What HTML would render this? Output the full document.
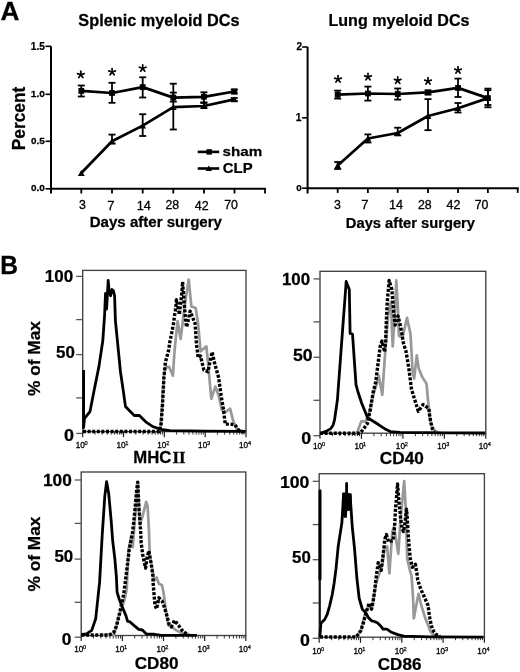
<!DOCTYPE html>
<html><head><meta charset="utf-8"><style>
html,body{margin:0;padding:0;background:#fff;}
body{width:520px;height:672px;overflow:hidden;}
svg{display:block;filter:grayscale(1);}
text{font-family:"Liberation Sans",sans-serif;}
</style></head><body>
<svg width="520" height="672" viewBox="0 0 520 672">
<rect width="520" height="672" fill="#fff"/>
<line x1="51" y1="46.3" x2="51" y2="193.5" stroke="#000" stroke-width="2" />
<line x1="45.5" y1="46.3" x2="51" y2="46.3" stroke="#000" stroke-width="1.6" />
<line x1="45.5" y1="94.3" x2="51" y2="94.3" stroke="#000" stroke-width="1.6" />
<line x1="45.5" y1="141.3" x2="51" y2="141.3" stroke="#000" stroke-width="1.6" />
<line x1="45.5" y1="188.8" x2="51" y2="188.8" stroke="#000" stroke-width="1.6" />
<line x1="50" y1="188.8" x2="266.0" y2="188.8" stroke="#000" stroke-width="2" />
<line x1="81.3" y1="188.8" x2="81.3" y2="193.5" stroke="#000" stroke-width="1.8" />
<line x1="112.0" y1="188.8" x2="112.0" y2="193.5" stroke="#000" stroke-width="1.8" />
<line x1="142.7" y1="188.8" x2="142.7" y2="193.5" stroke="#000" stroke-width="1.8" />
<line x1="173.3" y1="188.8" x2="173.3" y2="193.5" stroke="#000" stroke-width="1.8" />
<line x1="204.0" y1="188.8" x2="204.0" y2="193.5" stroke="#000" stroke-width="1.8" />
<line x1="234.5" y1="188.8" x2="234.5" y2="193.5" stroke="#000" stroke-width="1.8" />
<line x1="265.0" y1="188.8" x2="265.0" y2="193.5" stroke="#000" stroke-width="1.8" />
<polyline points="81.3,90.9 112.0,93.0 142.7,87.1 173.3,97.6 203.9,96.8 234.3,91.5" fill="none" stroke="#000" stroke-width="2.7" stroke-linejoin="round" />
<polyline points="81.3,173.0 112.0,141.3 142.7,125.6 173.3,107.1 203.9,106.0 234.3,99.4" fill="none" stroke="#000" stroke-width="2.7" stroke-linejoin="round" />
<line x1="81.3" y1="85.5" x2="81.3" y2="96.5" stroke="#000" stroke-width="1.8" />
<line x1="77.8" y1="85.5" x2="84.8" y2="85.5" stroke="#000" stroke-width="1.8" />
<line x1="77.8" y1="96.5" x2="84.8" y2="96.5" stroke="#000" stroke-width="1.8" />
<rect x="78.40" y="88.00" width="5.8" height="5.8" fill="#000"/>
<line x1="112.0" y1="82.8" x2="112.0" y2="102.8" stroke="#000" stroke-width="1.8" />
<line x1="108.5" y1="82.8" x2="115.5" y2="82.8" stroke="#000" stroke-width="1.8" />
<line x1="108.5" y1="102.8" x2="115.5" y2="102.8" stroke="#000" stroke-width="1.8" />
<rect x="109.10" y="90.10" width="5.8" height="5.8" fill="#000"/>
<line x1="142.7" y1="77.3" x2="142.7" y2="97.5" stroke="#000" stroke-width="1.8" />
<line x1="139.2" y1="77.3" x2="146.2" y2="77.3" stroke="#000" stroke-width="1.8" />
<line x1="139.2" y1="97.5" x2="146.2" y2="97.5" stroke="#000" stroke-width="1.8" />
<rect x="139.80" y="84.20" width="5.8" height="5.8" fill="#000"/>
<line x1="173.3" y1="92.6" x2="173.3" y2="101.6" stroke="#000" stroke-width="1.8" />
<line x1="169.8" y1="92.6" x2="176.8" y2="92.6" stroke="#000" stroke-width="1.8" />
<line x1="169.8" y1="101.6" x2="176.8" y2="101.6" stroke="#000" stroke-width="1.8" />
<rect x="170.40" y="94.70" width="5.8" height="5.8" fill="#000"/>
<line x1="203.9" y1="92.3" x2="203.9" y2="102.3" stroke="#000" stroke-width="1.8" />
<line x1="200.4" y1="92.3" x2="207.4" y2="92.3" stroke="#000" stroke-width="1.8" />
<line x1="200.4" y1="102.3" x2="207.4" y2="102.3" stroke="#000" stroke-width="1.8" />
<rect x="201.00" y="93.90" width="5.8" height="5.8" fill="#000"/>
<line x1="234.3" y1="89.5" x2="234.3" y2="93.5" stroke="#000" stroke-width="1.8" />
<line x1="230.8" y1="89.5" x2="237.8" y2="89.5" stroke="#000" stroke-width="1.8" />
<line x1="230.8" y1="93.5" x2="237.8" y2="93.5" stroke="#000" stroke-width="1.8" />
<rect x="231.40" y="88.60" width="5.8" height="5.8" fill="#000"/>
<polygon points="77.90,175.89 84.70,175.89 81.30,170.11" fill="#000"/>
<line x1="112.0" y1="134.6" x2="112.0" y2="143.5" stroke="#000" stroke-width="1.8" />
<line x1="108.5" y1="134.6" x2="115.5" y2="134.6" stroke="#000" stroke-width="1.8" />
<line x1="108.5" y1="143.5" x2="115.5" y2="143.5" stroke="#000" stroke-width="1.8" />
<polygon points="108.60,144.19 115.40,144.19 112.00,138.41" fill="#000"/>
<line x1="142.7" y1="114.2" x2="142.7" y2="136.0" stroke="#000" stroke-width="1.8" />
<line x1="139.2" y1="114.2" x2="146.2" y2="114.2" stroke="#000" stroke-width="1.8" />
<line x1="139.2" y1="136.0" x2="146.2" y2="136.0" stroke="#000" stroke-width="1.8" />
<polygon points="139.30,128.49 146.10,128.49 142.70,122.71" fill="#000"/>
<line x1="173.3" y1="83.7" x2="173.3" y2="129.5" stroke="#000" stroke-width="1.8" />
<line x1="169.8" y1="83.7" x2="176.8" y2="83.7" stroke="#000" stroke-width="1.8" />
<line x1="169.8" y1="129.5" x2="176.8" y2="129.5" stroke="#000" stroke-width="1.8" />
<polygon points="169.90,109.99 176.70,109.99 173.30,104.21" fill="#000"/>
<line x1="203.9" y1="103.0" x2="203.9" y2="108.0" stroke="#000" stroke-width="1.8" />
<line x1="200.4" y1="103.0" x2="207.4" y2="103.0" stroke="#000" stroke-width="1.8" />
<line x1="200.4" y1="108.0" x2="207.4" y2="108.0" stroke="#000" stroke-width="1.8" />
<polygon points="200.50,108.89 207.30,108.89 203.90,103.11" fill="#000"/>
<line x1="234.3" y1="98.0" x2="234.3" y2="101.0" stroke="#000" stroke-width="1.8" />
<line x1="230.8" y1="98.0" x2="237.8" y2="98.0" stroke="#000" stroke-width="1.8" />
<line x1="230.8" y1="101.0" x2="237.8" y2="101.0" stroke="#000" stroke-width="1.8" />
<polygon points="230.90,102.29 237.70,102.29 234.30,96.51" fill="#000"/>
<line x1="80.80" y1="74.70" x2="80.80" y2="71.20" stroke="#000" stroke-width="1.7" stroke-linecap="round"/>
<line x1="80.80" y1="74.70" x2="84.13" y2="73.62" stroke="#000" stroke-width="1.7" stroke-linecap="round"/>
<line x1="80.80" y1="74.70" x2="82.86" y2="77.53" stroke="#000" stroke-width="1.7" stroke-linecap="round"/>
<line x1="80.80" y1="74.70" x2="78.74" y2="77.53" stroke="#000" stroke-width="1.7" stroke-linecap="round"/>
<line x1="80.80" y1="74.70" x2="77.47" y2="73.62" stroke="#000" stroke-width="1.7" stroke-linecap="round"/>
<line x1="112.10" y1="72.00" x2="112.10" y2="68.50" stroke="#000" stroke-width="1.7" stroke-linecap="round"/>
<line x1="112.10" y1="72.00" x2="115.43" y2="70.92" stroke="#000" stroke-width="1.7" stroke-linecap="round"/>
<line x1="112.10" y1="72.00" x2="114.16" y2="74.83" stroke="#000" stroke-width="1.7" stroke-linecap="round"/>
<line x1="112.10" y1="72.00" x2="110.04" y2="74.83" stroke="#000" stroke-width="1.7" stroke-linecap="round"/>
<line x1="112.10" y1="72.00" x2="108.77" y2="70.92" stroke="#000" stroke-width="1.7" stroke-linecap="round"/>
<line x1="142.70" y1="68.30" x2="142.70" y2="64.80" stroke="#000" stroke-width="1.7" stroke-linecap="round"/>
<line x1="142.70" y1="68.30" x2="146.03" y2="67.22" stroke="#000" stroke-width="1.7" stroke-linecap="round"/>
<line x1="142.70" y1="68.30" x2="144.76" y2="71.13" stroke="#000" stroke-width="1.7" stroke-linecap="round"/>
<line x1="142.70" y1="68.30" x2="140.64" y2="71.13" stroke="#000" stroke-width="1.7" stroke-linecap="round"/>
<line x1="142.70" y1="68.30" x2="139.37" y2="67.22" stroke="#000" stroke-width="1.7" stroke-linecap="round"/>
<line x1="307.6" y1="47.0" x2="307.6" y2="193.5" stroke="#000" stroke-width="2" />
<line x1="302.1" y1="47.0" x2="307.6" y2="47.0" stroke="#000" stroke-width="1.6" />
<line x1="302.1" y1="117.8" x2="307.6" y2="117.8" stroke="#000" stroke-width="1.6" />
<line x1="302.1" y1="188.2" x2="307.6" y2="188.2" stroke="#000" stroke-width="1.6" />
<line x1="306.6" y1="188.2" x2="518.7" y2="188.2" stroke="#000" stroke-width="2" />
<line x1="337.7" y1="188.2" x2="337.7" y2="192.89999999999998" stroke="#000" stroke-width="1.8" />
<line x1="367.9" y1="188.2" x2="367.9" y2="192.89999999999998" stroke="#000" stroke-width="1.8" />
<line x1="397.7" y1="188.2" x2="397.7" y2="192.89999999999998" stroke="#000" stroke-width="1.8" />
<line x1="428.0" y1="188.2" x2="428.0" y2="192.89999999999998" stroke="#000" stroke-width="1.8" />
<line x1="458.0" y1="188.2" x2="458.0" y2="192.89999999999998" stroke="#000" stroke-width="1.8" />
<line x1="487.9" y1="188.2" x2="487.9" y2="192.89999999999998" stroke="#000" stroke-width="1.8" />
<line x1="517.7" y1="188.2" x2="517.7" y2="192.89999999999998" stroke="#000" stroke-width="1.8" />
<polyline points="337.7,94.7 367.9,93.5 397.7,94.0 428.0,92.4 458.0,87.9 487.9,98.1" fill="none" stroke="#000" stroke-width="2.7" stroke-linejoin="round" />
<polyline points="337.7,165.5 367.9,138.5 397.7,133.0 428.0,116.0 458.0,108.2 487.9,98.1" fill="none" stroke="#000" stroke-width="2.7" stroke-linejoin="round" />
<line x1="337.7" y1="90.6" x2="337.7" y2="98.6" stroke="#000" stroke-width="1.8" />
<line x1="334.2" y1="90.6" x2="341.2" y2="90.6" stroke="#000" stroke-width="1.8" />
<line x1="334.2" y1="98.6" x2="341.2" y2="98.6" stroke="#000" stroke-width="1.8" />
<rect x="334.80" y="91.80" width="5.8" height="5.8" fill="#000"/>
<line x1="367.9" y1="86.6" x2="367.9" y2="100.6" stroke="#000" stroke-width="1.8" />
<line x1="364.4" y1="86.6" x2="371.4" y2="86.6" stroke="#000" stroke-width="1.8" />
<line x1="364.4" y1="100.6" x2="371.4" y2="100.6" stroke="#000" stroke-width="1.8" />
<rect x="365.00" y="90.60" width="5.8" height="5.8" fill="#000"/>
<line x1="397.7" y1="88.5" x2="397.7" y2="99.6" stroke="#000" stroke-width="1.8" />
<line x1="394.2" y1="88.5" x2="401.2" y2="88.5" stroke="#000" stroke-width="1.8" />
<line x1="394.2" y1="99.6" x2="401.2" y2="99.6" stroke="#000" stroke-width="1.8" />
<rect x="394.80" y="91.10" width="5.8" height="5.8" fill="#000"/>
<line x1="428.0" y1="90.5" x2="428.0" y2="94.5" stroke="#000" stroke-width="1.8" />
<line x1="424.5" y1="90.5" x2="431.5" y2="90.5" stroke="#000" stroke-width="1.8" />
<line x1="424.5" y1="94.5" x2="431.5" y2="94.5" stroke="#000" stroke-width="1.8" />
<rect x="425.10" y="89.50" width="5.8" height="5.8" fill="#000"/>
<line x1="458.0" y1="78.6" x2="458.0" y2="97.0" stroke="#000" stroke-width="1.8" />
<line x1="454.5" y1="78.6" x2="461.5" y2="78.6" stroke="#000" stroke-width="1.8" />
<line x1="454.5" y1="97.0" x2="461.5" y2="97.0" stroke="#000" stroke-width="1.8" />
<rect x="455.10" y="85.00" width="5.8" height="5.8" fill="#000"/>
<line x1="487.9" y1="88.6" x2="487.9" y2="107.3" stroke="#000" stroke-width="1.8" />
<line x1="484.4" y1="88.6" x2="491.4" y2="88.6" stroke="#000" stroke-width="1.8" />
<line x1="484.4" y1="107.3" x2="491.4" y2="107.3" stroke="#000" stroke-width="1.8" />
<rect x="485.00" y="95.20" width="5.8" height="5.8" fill="#000"/>
<line x1="337.7" y1="162.0" x2="337.7" y2="169.0" stroke="#000" stroke-width="1.8" />
<line x1="334.2" y1="162.0" x2="341.2" y2="162.0" stroke="#000" stroke-width="1.8" />
<line x1="334.2" y1="169.0" x2="341.2" y2="169.0" stroke="#000" stroke-width="1.8" />
<polygon points="334.30,168.39 341.10,168.39 337.70,162.61" fill="#000"/>
<line x1="367.9" y1="134.4" x2="367.9" y2="142.5" stroke="#000" stroke-width="1.8" />
<line x1="364.4" y1="134.4" x2="371.4" y2="134.4" stroke="#000" stroke-width="1.8" />
<line x1="364.4" y1="142.5" x2="371.4" y2="142.5" stroke="#000" stroke-width="1.8" />
<polygon points="364.50,141.39 371.30,141.39 367.90,135.61" fill="#000"/>
<line x1="397.7" y1="127.7" x2="397.7" y2="135.4" stroke="#000" stroke-width="1.8" />
<line x1="394.2" y1="127.7" x2="401.2" y2="127.7" stroke="#000" stroke-width="1.8" />
<line x1="394.2" y1="135.4" x2="401.2" y2="135.4" stroke="#000" stroke-width="1.8" />
<polygon points="394.30,135.89 401.10,135.89 397.70,130.11" fill="#000"/>
<line x1="428.0" y1="99.1" x2="428.0" y2="130.2" stroke="#000" stroke-width="1.8" />
<line x1="424.5" y1="99.1" x2="431.5" y2="99.1" stroke="#000" stroke-width="1.8" />
<line x1="424.5" y1="130.2" x2="431.5" y2="130.2" stroke="#000" stroke-width="1.8" />
<polygon points="424.60,118.89 431.40,118.89 428.00,113.11" fill="#000"/>
<line x1="458.0" y1="103.0" x2="458.0" y2="112.5" stroke="#000" stroke-width="1.8" />
<line x1="454.5" y1="103.0" x2="461.5" y2="103.0" stroke="#000" stroke-width="1.8" />
<line x1="454.5" y1="112.5" x2="461.5" y2="112.5" stroke="#000" stroke-width="1.8" />
<polygon points="454.60,111.09 461.40,111.09 458.00,105.31" fill="#000"/>
<line x1="487.9" y1="90.2" x2="487.9" y2="105.0" stroke="#000" stroke-width="1.8" />
<line x1="484.4" y1="90.2" x2="491.4" y2="90.2" stroke="#000" stroke-width="1.8" />
<line x1="484.4" y1="105.0" x2="491.4" y2="105.0" stroke="#000" stroke-width="1.8" />
<polygon points="484.50,100.99 491.30,100.99 487.90,95.21" fill="#000"/>
<line x1="338.00" y1="79.20" x2="338.00" y2="75.70" stroke="#000" stroke-width="1.7" stroke-linecap="round"/>
<line x1="338.00" y1="79.20" x2="341.33" y2="78.12" stroke="#000" stroke-width="1.7" stroke-linecap="round"/>
<line x1="338.00" y1="79.20" x2="340.06" y2="82.03" stroke="#000" stroke-width="1.7" stroke-linecap="round"/>
<line x1="338.00" y1="79.20" x2="335.94" y2="82.03" stroke="#000" stroke-width="1.7" stroke-linecap="round"/>
<line x1="338.00" y1="79.20" x2="334.67" y2="78.12" stroke="#000" stroke-width="1.7" stroke-linecap="round"/>
<line x1="368.00" y1="76.90" x2="368.00" y2="73.40" stroke="#000" stroke-width="1.7" stroke-linecap="round"/>
<line x1="368.00" y1="76.90" x2="371.33" y2="75.82" stroke="#000" stroke-width="1.7" stroke-linecap="round"/>
<line x1="368.00" y1="76.90" x2="370.06" y2="79.73" stroke="#000" stroke-width="1.7" stroke-linecap="round"/>
<line x1="368.00" y1="76.90" x2="365.94" y2="79.73" stroke="#000" stroke-width="1.7" stroke-linecap="round"/>
<line x1="368.00" y1="76.90" x2="364.67" y2="75.82" stroke="#000" stroke-width="1.7" stroke-linecap="round"/>
<line x1="397.70" y1="80.40" x2="397.70" y2="76.90" stroke="#000" stroke-width="1.7" stroke-linecap="round"/>
<line x1="397.70" y1="80.40" x2="401.03" y2="79.32" stroke="#000" stroke-width="1.7" stroke-linecap="round"/>
<line x1="397.70" y1="80.40" x2="399.76" y2="83.23" stroke="#000" stroke-width="1.7" stroke-linecap="round"/>
<line x1="397.70" y1="80.40" x2="395.64" y2="83.23" stroke="#000" stroke-width="1.7" stroke-linecap="round"/>
<line x1="397.70" y1="80.40" x2="394.37" y2="79.32" stroke="#000" stroke-width="1.7" stroke-linecap="round"/>
<line x1="428.00" y1="81.20" x2="428.00" y2="77.70" stroke="#000" stroke-width="1.7" stroke-linecap="round"/>
<line x1="428.00" y1="81.20" x2="431.33" y2="80.12" stroke="#000" stroke-width="1.7" stroke-linecap="round"/>
<line x1="428.00" y1="81.20" x2="430.06" y2="84.03" stroke="#000" stroke-width="1.7" stroke-linecap="round"/>
<line x1="428.00" y1="81.20" x2="425.94" y2="84.03" stroke="#000" stroke-width="1.7" stroke-linecap="round"/>
<line x1="428.00" y1="81.20" x2="424.67" y2="80.12" stroke="#000" stroke-width="1.7" stroke-linecap="round"/>
<line x1="458.00" y1="70.20" x2="458.00" y2="66.70" stroke="#000" stroke-width="1.7" stroke-linecap="round"/>
<line x1="458.00" y1="70.20" x2="461.33" y2="69.12" stroke="#000" stroke-width="1.7" stroke-linecap="round"/>
<line x1="458.00" y1="70.20" x2="460.06" y2="73.03" stroke="#000" stroke-width="1.7" stroke-linecap="round"/>
<line x1="458.00" y1="70.20" x2="455.94" y2="73.03" stroke="#000" stroke-width="1.7" stroke-linecap="round"/>
<line x1="458.00" y1="70.20" x2="454.67" y2="69.12" stroke="#000" stroke-width="1.7" stroke-linecap="round"/>
<line x1="197.7" y1="151.9" x2="219.2" y2="151.9" stroke="#000" stroke-width="2.6" />
<rect x="206.50" y="149.20" width="5.4" height="5.4" fill="#000"/>
<line x1="197.7" y1="168.5" x2="219.2" y2="168.5" stroke="#000" stroke-width="2.6" />
<polygon points="205.60,170.92 212.00,170.92 208.80,165.48" fill="#000"/>
<rect x="82.7" y="270.4" width="163.3" height="161.20000000000005" fill="none" stroke="#404040" stroke-width="1.35"/>
<line x1="76.2" y1="276.4" x2="82.7" y2="276.4" stroke="#555" stroke-width="1.3" />
<line x1="76.2" y1="319.6" x2="82.7" y2="319.6" stroke="#555" stroke-width="1.3" />
<line x1="76.2" y1="354.6" x2="82.7" y2="354.6" stroke="#555" stroke-width="1.3" />
<line x1="76.2" y1="397.9" x2="82.7" y2="397.9" stroke="#555" stroke-width="1.3" />
<line x1="76.2" y1="433.4" x2="82.7" y2="433.4" stroke="#555" stroke-width="1.3" />
<line x1="82.7" y1="431.6" x2="82.7" y2="437.20000000000005" stroke="#222" stroke-width="1.2" />
<line x1="94.99" y1="431.6" x2="94.99" y2="434.6" stroke="#333" stroke-width="1.0" />
<line x1="102.18" y1="431.6" x2="102.18" y2="434.6" stroke="#333" stroke-width="1.0" />
<line x1="107.28" y1="431.6" x2="107.28" y2="434.6" stroke="#333" stroke-width="1.0" />
<line x1="111.24" y1="431.6" x2="111.24" y2="434.6" stroke="#333" stroke-width="1.0" />
<line x1="114.47" y1="431.6" x2="114.47" y2="434.6" stroke="#333" stroke-width="1.0" />
<line x1="117.20" y1="431.6" x2="117.20" y2="434.6" stroke="#333" stroke-width="1.0" />
<line x1="119.57" y1="431.6" x2="119.57" y2="434.6" stroke="#333" stroke-width="1.0" />
<line x1="121.66" y1="431.6" x2="121.66" y2="434.6" stroke="#333" stroke-width="1.0" />
<line x1="123.525" y1="431.6" x2="123.525" y2="437.20000000000005" stroke="#222" stroke-width="1.2" />
<line x1="135.81" y1="431.6" x2="135.81" y2="434.6" stroke="#333" stroke-width="1.0" />
<line x1="143.00" y1="431.6" x2="143.00" y2="434.6" stroke="#333" stroke-width="1.0" />
<line x1="148.10" y1="431.6" x2="148.10" y2="434.6" stroke="#333" stroke-width="1.0" />
<line x1="152.06" y1="431.6" x2="152.06" y2="434.6" stroke="#333" stroke-width="1.0" />
<line x1="155.29" y1="431.6" x2="155.29" y2="434.6" stroke="#333" stroke-width="1.0" />
<line x1="158.03" y1="431.6" x2="158.03" y2="434.6" stroke="#333" stroke-width="1.0" />
<line x1="160.39" y1="431.6" x2="160.39" y2="434.6" stroke="#333" stroke-width="1.0" />
<line x1="162.48" y1="431.6" x2="162.48" y2="434.6" stroke="#333" stroke-width="1.0" />
<line x1="164.35000000000002" y1="431.6" x2="164.35000000000002" y2="437.20000000000005" stroke="#222" stroke-width="1.2" />
<line x1="176.64" y1="431.6" x2="176.64" y2="434.6" stroke="#333" stroke-width="1.0" />
<line x1="183.83" y1="431.6" x2="183.83" y2="434.6" stroke="#333" stroke-width="1.0" />
<line x1="188.93" y1="431.6" x2="188.93" y2="434.6" stroke="#333" stroke-width="1.0" />
<line x1="192.89" y1="431.6" x2="192.89" y2="434.6" stroke="#333" stroke-width="1.0" />
<line x1="196.12" y1="431.6" x2="196.12" y2="434.6" stroke="#333" stroke-width="1.0" />
<line x1="198.85" y1="431.6" x2="198.85" y2="434.6" stroke="#333" stroke-width="1.0" />
<line x1="201.22" y1="431.6" x2="201.22" y2="434.6" stroke="#333" stroke-width="1.0" />
<line x1="203.31" y1="431.6" x2="203.31" y2="434.6" stroke="#333" stroke-width="1.0" />
<line x1="205.175" y1="431.6" x2="205.175" y2="437.20000000000005" stroke="#222" stroke-width="1.2" />
<line x1="217.46" y1="431.6" x2="217.46" y2="434.6" stroke="#333" stroke-width="1.0" />
<line x1="224.65" y1="431.6" x2="224.65" y2="434.6" stroke="#333" stroke-width="1.0" />
<line x1="229.75" y1="431.6" x2="229.75" y2="434.6" stroke="#333" stroke-width="1.0" />
<line x1="233.71" y1="431.6" x2="233.71" y2="434.6" stroke="#333" stroke-width="1.0" />
<line x1="236.94" y1="431.6" x2="236.94" y2="434.6" stroke="#333" stroke-width="1.0" />
<line x1="239.68" y1="431.6" x2="239.68" y2="434.6" stroke="#333" stroke-width="1.0" />
<line x1="242.04" y1="431.6" x2="242.04" y2="434.6" stroke="#333" stroke-width="1.0" />
<line x1="244.13" y1="431.6" x2="244.13" y2="434.6" stroke="#333" stroke-width="1.0" />
<line x1="246.0" y1="431.6" x2="246.0" y2="437.20000000000005" stroke="#222" stroke-width="1.2" />
<polyline points="160.5,428.0 163.9,377.0 165.4,367.5 169.1,366.8 172.9,375.7 174.6,350.0 177.6,321.2 180.6,339.0 183.0,320.0 185.4,301.0 188.7,279.5 191.4,306.5 195.7,308.1 198.1,323.6 200.6,351.3 206.4,346.4 208.0,362.7 211.3,398.7 215.4,386.5 218.6,395.5 221.9,410.2 226.0,411.8 230.1,408.6 233.4,421.7 237.5,429.8 245.0,431.5" fill="none" stroke="#999" stroke-width="2.7" stroke-linejoin="round" />
<polyline points="83.0,431.5 159.5,431.5 160.2,427.8 161.0,424.8 162.4,407.0 163.9,377.2 165.4,362.3 168.7,350.0 169.9,341.4 171.7,333.0 173.5,323.6 174.6,315.2 175.8,308.1 176.4,299.8 178.2,308.1 179.4,314.6 180.6,303.3 181.8,293.8 182.6,281.9 184.2,303.3 185.4,317.6 186.5,327.1 188.3,320.0 190.1,311.1 192.7,317.6 195.1,323.6 196.5,344.7 198.2,357.8 200.5,356.0 203.9,370.1 208.0,371.7 210.5,359.5 212.1,352.1 214.5,362.7 218.6,377.5 221.1,395.5 223.6,410.2 225.2,424.1 230.1,424.1 235.0,424.9 239.1,430.7 244.8,432.3" fill="none" stroke="#000" stroke-width="3.4" stroke-linejoin="round" stroke-dasharray="3,1.6"/>
<polyline points="83.6,370.0 83.6,427.7 84.5,418.3 90.0,411.6 93.9,391.4 99.0,366.1 102.8,340.8 104.6,315.0 105.5,293.5 106.6,309.0 108.2,280.5 109.2,292.0 110.6,295.8 112.0,289.5 113.5,291.0 114.6,296.0 115.4,320.6 117.9,345.9 120.4,371.2 123.0,388.9 125.5,406.6 129.3,410.4 134.3,415.5 139.4,415.5 145.7,421.8 153.3,426.8 160.9,429.4 170.0,430.6 205.0,431.1 245.5,431.4" fill="none" stroke="#000" stroke-width="2.8" stroke-linejoin="round" />
<rect x="320.0" y="271.3" width="165.8" height="161.89999999999998" fill="none" stroke="#404040" stroke-width="1.35"/>
<line x1="313.5" y1="278.9" x2="320.0" y2="278.9" stroke="#555" stroke-width="1.3" />
<line x1="313.5" y1="321.9" x2="320.0" y2="321.9" stroke="#555" stroke-width="1.3" />
<line x1="313.5" y1="357.3" x2="320.0" y2="357.3" stroke="#555" stroke-width="1.3" />
<line x1="313.5" y1="400.3" x2="320.0" y2="400.3" stroke="#555" stroke-width="1.3" />
<line x1="313.5" y1="435.7" x2="320.0" y2="435.7" stroke="#555" stroke-width="1.3" />
<line x1="320.0" y1="433.2" x2="320.0" y2="438.8" stroke="#222" stroke-width="1.2" />
<line x1="332.48" y1="433.2" x2="332.48" y2="436.2" stroke="#333" stroke-width="1.0" />
<line x1="339.78" y1="433.2" x2="339.78" y2="436.2" stroke="#333" stroke-width="1.0" />
<line x1="344.96" y1="433.2" x2="344.96" y2="436.2" stroke="#333" stroke-width="1.0" />
<line x1="348.97" y1="433.2" x2="348.97" y2="436.2" stroke="#333" stroke-width="1.0" />
<line x1="352.25" y1="433.2" x2="352.25" y2="436.2" stroke="#333" stroke-width="1.0" />
<line x1="355.03" y1="433.2" x2="355.03" y2="436.2" stroke="#333" stroke-width="1.0" />
<line x1="357.43" y1="433.2" x2="357.43" y2="436.2" stroke="#333" stroke-width="1.0" />
<line x1="359.55" y1="433.2" x2="359.55" y2="436.2" stroke="#333" stroke-width="1.0" />
<line x1="361.45" y1="433.2" x2="361.45" y2="438.8" stroke="#222" stroke-width="1.2" />
<line x1="373.93" y1="433.2" x2="373.93" y2="436.2" stroke="#333" stroke-width="1.0" />
<line x1="381.23" y1="433.2" x2="381.23" y2="436.2" stroke="#333" stroke-width="1.0" />
<line x1="386.41" y1="433.2" x2="386.41" y2="436.2" stroke="#333" stroke-width="1.0" />
<line x1="390.42" y1="433.2" x2="390.42" y2="436.2" stroke="#333" stroke-width="1.0" />
<line x1="393.70" y1="433.2" x2="393.70" y2="436.2" stroke="#333" stroke-width="1.0" />
<line x1="396.48" y1="433.2" x2="396.48" y2="436.2" stroke="#333" stroke-width="1.0" />
<line x1="398.88" y1="433.2" x2="398.88" y2="436.2" stroke="#333" stroke-width="1.0" />
<line x1="401.00" y1="433.2" x2="401.00" y2="436.2" stroke="#333" stroke-width="1.0" />
<line x1="402.9" y1="433.2" x2="402.9" y2="438.8" stroke="#222" stroke-width="1.2" />
<line x1="415.38" y1="433.2" x2="415.38" y2="436.2" stroke="#333" stroke-width="1.0" />
<line x1="422.68" y1="433.2" x2="422.68" y2="436.2" stroke="#333" stroke-width="1.0" />
<line x1="427.86" y1="433.2" x2="427.86" y2="436.2" stroke="#333" stroke-width="1.0" />
<line x1="431.87" y1="433.2" x2="431.87" y2="436.2" stroke="#333" stroke-width="1.0" />
<line x1="435.15" y1="433.2" x2="435.15" y2="436.2" stroke="#333" stroke-width="1.0" />
<line x1="437.93" y1="433.2" x2="437.93" y2="436.2" stroke="#333" stroke-width="1.0" />
<line x1="440.33" y1="433.2" x2="440.33" y2="436.2" stroke="#333" stroke-width="1.0" />
<line x1="442.45" y1="433.2" x2="442.45" y2="436.2" stroke="#333" stroke-width="1.0" />
<line x1="444.35" y1="433.2" x2="444.35" y2="438.8" stroke="#222" stroke-width="1.2" />
<line x1="456.83" y1="433.2" x2="456.83" y2="436.2" stroke="#333" stroke-width="1.0" />
<line x1="464.13" y1="433.2" x2="464.13" y2="436.2" stroke="#333" stroke-width="1.0" />
<line x1="469.31" y1="433.2" x2="469.31" y2="436.2" stroke="#333" stroke-width="1.0" />
<line x1="473.32" y1="433.2" x2="473.32" y2="436.2" stroke="#333" stroke-width="1.0" />
<line x1="476.60" y1="433.2" x2="476.60" y2="436.2" stroke="#333" stroke-width="1.0" />
<line x1="479.38" y1="433.2" x2="479.38" y2="436.2" stroke="#333" stroke-width="1.0" />
<line x1="481.78" y1="433.2" x2="481.78" y2="436.2" stroke="#333" stroke-width="1.0" />
<line x1="483.90" y1="433.2" x2="483.90" y2="436.2" stroke="#333" stroke-width="1.0" />
<line x1="485.8" y1="433.2" x2="485.8" y2="438.8" stroke="#222" stroke-width="1.2" />
<polyline points="356.7,433.5 361.5,421.0 365.4,421.9 369.2,412.3 373.1,395.0 376.9,383.5 378.8,375.8 382.3,394.9 384.6,360.7 388.2,314.3 390.9,301.8 392.7,346.4 394.5,319.6 396.3,280.4 398.0,310.7 398.9,335.7 402.5,337.5 407.0,317.9 410.5,333.9 412.5,370.0 414.1,378.6 416.8,355.4 418.6,367.9 422.1,376.8 426.6,383.9 427.5,395.0 428.8,407.7 430.0,419.2 431.5,425.4 435.0,431.0 438.0,432.5" fill="none" stroke="#999" stroke-width="2.7" stroke-linejoin="round" />
<polyline points="320.0,433.2 359.8,433.2 361.5,431.5 367.3,423.8 370.2,410.4 373.0,392.9 375.7,382.1 378.4,360.7 380.2,346.4 382.0,341.1 384.6,351.8 385.5,342.9 386.4,319.6 387.3,301.8 389.1,280.4 391.8,289.3 393.6,310.7 395.2,325.0 398.0,316.0 400.7,326.8 403.4,342.9 406.1,351.8 408.8,367.9 411.5,389.2 418.3,411.3 423.1,404.6 428.8,408.5 429.6,415.4 430.8,422.3 432.3,428.8 434.5,431.5" fill="none" stroke="#000" stroke-width="3.4" stroke-linejoin="round" stroke-dasharray="3,1.6"/>
<polyline points="320.3,433.6 326.5,431.1 330.8,428.6 333.2,424.9 334.5,420.0 337.4,400.0 342.1,336.4 344.9,299.2 346.2,281.4 349.3,289.5 350.1,333.5 352.5,334.0 356.0,384.7 357.7,391.0 361.5,402.7 367.3,417.1 371.2,420.0 378.8,424.8 384.6,428.7 390.4,431.6 400.0,432.3 450.0,432.9 485.0,433.0" fill="none" stroke="#000" stroke-width="2.8" stroke-linejoin="round" />
<rect x="81.2" y="472.0" width="164.60000000000002" height="163.5" fill="none" stroke="#404040" stroke-width="1.35"/>
<line x1="74.7" y1="480.0" x2="81.2" y2="480.0" stroke="#555" stroke-width="1.3" />
<line x1="74.7" y1="523.4" x2="81.2" y2="523.4" stroke="#555" stroke-width="1.3" />
<line x1="74.7" y1="559.1" x2="81.2" y2="559.1" stroke="#555" stroke-width="1.3" />
<line x1="74.7" y1="602.3" x2="81.2" y2="602.3" stroke="#555" stroke-width="1.3" />
<line x1="74.7" y1="637.2" x2="81.2" y2="637.2" stroke="#555" stroke-width="1.3" />
<line x1="81.2" y1="635.5" x2="81.2" y2="641.1" stroke="#222" stroke-width="1.2" />
<line x1="93.59" y1="635.5" x2="93.59" y2="638.5" stroke="#333" stroke-width="1.0" />
<line x1="100.83" y1="635.5" x2="100.83" y2="638.5" stroke="#333" stroke-width="1.0" />
<line x1="105.97" y1="635.5" x2="105.97" y2="638.5" stroke="#333" stroke-width="1.0" />
<line x1="109.96" y1="635.5" x2="109.96" y2="638.5" stroke="#333" stroke-width="1.0" />
<line x1="113.22" y1="635.5" x2="113.22" y2="638.5" stroke="#333" stroke-width="1.0" />
<line x1="115.98" y1="635.5" x2="115.98" y2="638.5" stroke="#333" stroke-width="1.0" />
<line x1="118.36" y1="635.5" x2="118.36" y2="638.5" stroke="#333" stroke-width="1.0" />
<line x1="120.47" y1="635.5" x2="120.47" y2="638.5" stroke="#333" stroke-width="1.0" />
<line x1="122.35000000000001" y1="635.5" x2="122.35000000000001" y2="641.1" stroke="#222" stroke-width="1.2" />
<line x1="134.74" y1="635.5" x2="134.74" y2="638.5" stroke="#333" stroke-width="1.0" />
<line x1="141.98" y1="635.5" x2="141.98" y2="638.5" stroke="#333" stroke-width="1.0" />
<line x1="147.12" y1="635.5" x2="147.12" y2="638.5" stroke="#333" stroke-width="1.0" />
<line x1="151.11" y1="635.5" x2="151.11" y2="638.5" stroke="#333" stroke-width="1.0" />
<line x1="154.37" y1="635.5" x2="154.37" y2="638.5" stroke="#333" stroke-width="1.0" />
<line x1="157.13" y1="635.5" x2="157.13" y2="638.5" stroke="#333" stroke-width="1.0" />
<line x1="159.51" y1="635.5" x2="159.51" y2="638.5" stroke="#333" stroke-width="1.0" />
<line x1="161.62" y1="635.5" x2="161.62" y2="638.5" stroke="#333" stroke-width="1.0" />
<line x1="163.5" y1="635.5" x2="163.5" y2="641.1" stroke="#222" stroke-width="1.2" />
<line x1="175.89" y1="635.5" x2="175.89" y2="638.5" stroke="#333" stroke-width="1.0" />
<line x1="183.13" y1="635.5" x2="183.13" y2="638.5" stroke="#333" stroke-width="1.0" />
<line x1="188.27" y1="635.5" x2="188.27" y2="638.5" stroke="#333" stroke-width="1.0" />
<line x1="192.26" y1="635.5" x2="192.26" y2="638.5" stroke="#333" stroke-width="1.0" />
<line x1="195.52" y1="635.5" x2="195.52" y2="638.5" stroke="#333" stroke-width="1.0" />
<line x1="198.28" y1="635.5" x2="198.28" y2="638.5" stroke="#333" stroke-width="1.0" />
<line x1="200.66" y1="635.5" x2="200.66" y2="638.5" stroke="#333" stroke-width="1.0" />
<line x1="202.77" y1="635.5" x2="202.77" y2="638.5" stroke="#333" stroke-width="1.0" />
<line x1="204.65000000000003" y1="635.5" x2="204.65000000000003" y2="641.1" stroke="#222" stroke-width="1.2" />
<line x1="217.04" y1="635.5" x2="217.04" y2="638.5" stroke="#333" stroke-width="1.0" />
<line x1="224.28" y1="635.5" x2="224.28" y2="638.5" stroke="#333" stroke-width="1.0" />
<line x1="229.42" y1="635.5" x2="229.42" y2="638.5" stroke="#333" stroke-width="1.0" />
<line x1="233.41" y1="635.5" x2="233.41" y2="638.5" stroke="#333" stroke-width="1.0" />
<line x1="236.67" y1="635.5" x2="236.67" y2="638.5" stroke="#333" stroke-width="1.0" />
<line x1="239.43" y1="635.5" x2="239.43" y2="638.5" stroke="#333" stroke-width="1.0" />
<line x1="241.81" y1="635.5" x2="241.81" y2="638.5" stroke="#333" stroke-width="1.0" />
<line x1="243.92" y1="635.5" x2="243.92" y2="638.5" stroke="#333" stroke-width="1.0" />
<line x1="245.8" y1="635.5" x2="245.8" y2="641.1" stroke="#222" stroke-width="1.2" />
<polyline points="101.5,635.0 113.9,634.9 116.4,627.0 119.3,614.4 121.7,608.3 124.6,599.5 126.8,589.1 127.5,569.8 128.5,550.0 131.3,535.8 132.7,547.2 134.9,520.0 137.7,482.5 139.8,524.5 142.6,516.0 146.2,501.9 147.6,506.1 149.0,531.6 149.7,554.2 150.3,558.8 152.7,571.3 154.2,580.6 156.6,577.5 158.9,583.8 162.0,585.3 163.6,593.1 165.9,610.3 168.3,625.2 172.2,627.5 176.9,630.6 181.6,633.0 190.0,634.5" fill="none" stroke="#999" stroke-width="2.7" stroke-linejoin="round" />
<polyline points="81.5,635.0 108.9,635.0 113.4,633.0 116.4,626.3 119.3,614.4 121.6,604.0 123.8,593.6 125.3,581.7 126.8,569.8 129.2,550.0 132.7,531.6 134.9,510.4 136.3,493.4 137.7,482.1 139.1,510.4 140.5,528.8 141.2,542.9 142.6,554.2 145.6,568.1 147.2,557.2 148.8,550.9 151.1,563.4 152.7,574.4 153.4,586.9 155.0,605.6 156.6,608.8 158.9,597.8 162.0,600.9 164.4,607.2 166.7,615.0 169.1,624.4 171.4,626.7 174.5,620.5 178.4,625.2 181.6,629.8 183.9,632.2 188.0,634.5" fill="none" stroke="#000" stroke-width="3.4" stroke-linejoin="round" stroke-dasharray="3,1.6"/>
<polyline points="81.5,634.4 86.5,633.8 91.7,630.4 95.7,618.7 99.6,582.2 102.2,535.2 104.8,496.1 106.6,481.7 108.7,493.5 111.3,522.2 112.6,540.0 114.9,559.3 116.4,577.2 117.1,592.1 119.3,599.5 122.3,607.0 126.0,615.9 127.5,621.1 129.8,621.8 134.2,625.6 138.7,629.3 142.4,630.0 146.1,633.8 153.4,634.2 161.3,635.3 196.8,635.3" fill="none" stroke="#000" stroke-width="2.8" stroke-linejoin="round" />
<rect x="319.2" y="473.7" width="165.2" height="163.50000000000006" fill="none" stroke="#404040" stroke-width="1.35"/>
<line x1="312.7" y1="481.3" x2="319.2" y2="481.3" stroke="#555" stroke-width="1.3" />
<line x1="312.7" y1="524.6" x2="319.2" y2="524.6" stroke="#555" stroke-width="1.3" />
<line x1="312.7" y1="559.7" x2="319.2" y2="559.7" stroke="#555" stroke-width="1.3" />
<line x1="312.7" y1="603.0" x2="319.2" y2="603.0" stroke="#555" stroke-width="1.3" />
<line x1="312.7" y1="638.3" x2="319.2" y2="638.3" stroke="#555" stroke-width="1.3" />
<line x1="319.2" y1="637.2" x2="319.2" y2="642.8000000000001" stroke="#222" stroke-width="1.2" />
<line x1="331.63" y1="637.2" x2="331.63" y2="640.2" stroke="#333" stroke-width="1.0" />
<line x1="338.91" y1="637.2" x2="338.91" y2="640.2" stroke="#333" stroke-width="1.0" />
<line x1="344.07" y1="637.2" x2="344.07" y2="640.2" stroke="#333" stroke-width="1.0" />
<line x1="348.07" y1="637.2" x2="348.07" y2="640.2" stroke="#333" stroke-width="1.0" />
<line x1="351.34" y1="637.2" x2="351.34" y2="640.2" stroke="#333" stroke-width="1.0" />
<line x1="354.10" y1="637.2" x2="354.10" y2="640.2" stroke="#333" stroke-width="1.0" />
<line x1="356.50" y1="637.2" x2="356.50" y2="640.2" stroke="#333" stroke-width="1.0" />
<line x1="358.61" y1="637.2" x2="358.61" y2="640.2" stroke="#333" stroke-width="1.0" />
<line x1="360.5" y1="637.2" x2="360.5" y2="642.8000000000001" stroke="#222" stroke-width="1.2" />
<line x1="372.93" y1="637.2" x2="372.93" y2="640.2" stroke="#333" stroke-width="1.0" />
<line x1="380.21" y1="637.2" x2="380.21" y2="640.2" stroke="#333" stroke-width="1.0" />
<line x1="385.37" y1="637.2" x2="385.37" y2="640.2" stroke="#333" stroke-width="1.0" />
<line x1="389.37" y1="637.2" x2="389.37" y2="640.2" stroke="#333" stroke-width="1.0" />
<line x1="392.64" y1="637.2" x2="392.64" y2="640.2" stroke="#333" stroke-width="1.0" />
<line x1="395.40" y1="637.2" x2="395.40" y2="640.2" stroke="#333" stroke-width="1.0" />
<line x1="397.80" y1="637.2" x2="397.80" y2="640.2" stroke="#333" stroke-width="1.0" />
<line x1="399.91" y1="637.2" x2="399.91" y2="640.2" stroke="#333" stroke-width="1.0" />
<line x1="401.79999999999995" y1="637.2" x2="401.79999999999995" y2="642.8000000000001" stroke="#222" stroke-width="1.2" />
<line x1="414.23" y1="637.2" x2="414.23" y2="640.2" stroke="#333" stroke-width="1.0" />
<line x1="421.51" y1="637.2" x2="421.51" y2="640.2" stroke="#333" stroke-width="1.0" />
<line x1="426.67" y1="637.2" x2="426.67" y2="640.2" stroke="#333" stroke-width="1.0" />
<line x1="430.67" y1="637.2" x2="430.67" y2="640.2" stroke="#333" stroke-width="1.0" />
<line x1="433.94" y1="637.2" x2="433.94" y2="640.2" stroke="#333" stroke-width="1.0" />
<line x1="436.70" y1="637.2" x2="436.70" y2="640.2" stroke="#333" stroke-width="1.0" />
<line x1="439.10" y1="637.2" x2="439.10" y2="640.2" stroke="#333" stroke-width="1.0" />
<line x1="441.21" y1="637.2" x2="441.21" y2="640.2" stroke="#333" stroke-width="1.0" />
<line x1="443.09999999999997" y1="637.2" x2="443.09999999999997" y2="642.8000000000001" stroke="#222" stroke-width="1.2" />
<line x1="455.53" y1="637.2" x2="455.53" y2="640.2" stroke="#333" stroke-width="1.0" />
<line x1="462.81" y1="637.2" x2="462.81" y2="640.2" stroke="#333" stroke-width="1.0" />
<line x1="467.97" y1="637.2" x2="467.97" y2="640.2" stroke="#333" stroke-width="1.0" />
<line x1="471.97" y1="637.2" x2="471.97" y2="640.2" stroke="#333" stroke-width="1.0" />
<line x1="475.24" y1="637.2" x2="475.24" y2="640.2" stroke="#333" stroke-width="1.0" />
<line x1="478.00" y1="637.2" x2="478.00" y2="640.2" stroke="#333" stroke-width="1.0" />
<line x1="480.40" y1="637.2" x2="480.40" y2="640.2" stroke="#333" stroke-width="1.0" />
<line x1="482.51" y1="637.2" x2="482.51" y2="640.2" stroke="#333" stroke-width="1.0" />
<line x1="484.4" y1="637.2" x2="484.4" y2="642.8000000000001" stroke="#222" stroke-width="1.2" />
<polyline points="356.2,636.9 360.8,630.8 365.4,612.3 369.2,604.6 371.5,609.2 373.1,601.5 376.2,583.1 382.3,564.6 384.5,548.0 387.1,546.5 389.4,573.3 392.3,531.6 394.0,527.0 398.3,553.9 400.5,519.7 404.2,481.0 405.7,507.8 407.2,558.4 410.2,571.8 411.5,575.4 413.1,598.5 413.8,618.5 418.5,593.8 421.5,606.2 425.4,618.5 428.5,626.2 430.1,631.1 433.5,635.2 440.0,636.5" fill="none" stroke="#999" stroke-width="2.7" stroke-linejoin="round" />
<polyline points="320.0,637.0 356.2,636.9 360.8,630.8 363.8,621.5 366.2,612.3 369.2,603.1 371.5,609.2 373.1,601.5 374.6,590.8 376.7,573.3 378.2,562.8 381.2,570.3 383.4,552.4 384.9,539.0 386.4,534.6 388.6,542.0 393.1,540.5 394.6,527.1 395.3,512.2 396.5,497.3 397.5,483.9 399.0,501.8 400.5,516.7 402.0,528.6 403.5,531.6 405.0,522.6 406.5,509.2 407.2,516.7 408.0,531.6 409.0,545.0 410.2,558.4 412.4,567.3 415.4,564.3 416.9,573.3 417.7,580.0 420.8,589.2 424.0,596.2 428.1,605.6 429.4,616.3 431.4,625.8 433.5,631.1 436.2,634.5 440.0,636.5" fill="none" stroke="#000" stroke-width="3.4" stroke-linejoin="round" stroke-dasharray="3,1.6"/>
<polyline points="319.8,637.2 320.9,623.3 322.1,622.0 324.7,619.5 327.2,614.4 329.7,605.6 332.3,594.2 334.2,582.8 336.0,568.9 338.2,546.4 341.9,522.6 343.6,494.0 346.6,494.0 346.6,483.5 346.6,494.0 350.1,495.0 352.3,527.1 354.6,549.4 356.9,578.5 359.2,598.5 362.3,609.2 365.4,612.3 368.5,617.7 371.5,620.8 374.6,621.5 377.7,623.1 380.8,626.2 383.1,629.2 386.9,629.2 391.5,632.3 397.7,634.6 403.8,636.2 430.0,636.9 483.5,637.2" fill="none" stroke="#000" stroke-width="2.8" stroke-linejoin="round" />
<line x1="320" y1="490.7" x2="320" y2="579" stroke="#000" stroke-width="3" stroke-linecap="round"/><line x1="320" y1="579" x2="320" y2="624" stroke="#000" stroke-width="1.6"/><polygon points="342.3,492.7 351.6,493.5 351.6,510.5 347.2,511 346.8,517.7 343.4,517.7 342.3,500" fill="#000"/>
<text transform="translate(0.41,20.07) scale(0.9848,1)" font-size="26.618" font-weight="bold" stroke="#000" stroke-width="0.250" style="font-family:'Liberation Sans'">A</text>
<text transform="translate(78.31,25.65) scale(1.0217,1)" font-size="15.957" font-weight="bold" stroke="#000" stroke-width="0.250" style="font-family:'Liberation Sans'">Splenic myeloid DCs</text>
<text transform="translate(328.47,25.95) scale(1.0076,1)" font-size="15.957" font-weight="bold" stroke="#000" stroke-width="0.250" style="font-family:'Liberation Sans'">Lung myeloid DCs</text>
<text transform="translate(30.80,49.65) scale(1.0077,1)" font-size="10.000" font-weight="bold" stroke="#000" stroke-width="0.250" style="font-family:'Liberation Sans'">1.5</text>
<text transform="translate(30.79,97.30) scale(1.0300,1)" font-size="9.859" font-weight="bold" stroke="#000" stroke-width="0.250" style="font-family:'Liberation Sans'">1.0</text>
<text transform="translate(31.00,144.05) scale(1.0066,1)" font-size="9.859" font-weight="bold" stroke="#000" stroke-width="0.250" style="font-family:'Liberation Sans'">0.5</text>
<text transform="translate(31.00,191.15) scale(1.0143,1)" font-size="9.859" font-weight="bold" stroke="#000" stroke-width="0.250" style="font-family:'Liberation Sans'">0.0</text>
<text transform="translate(296.45,50.40) scale(1.0000,1)" font-size="10.000" font-weight="bold" stroke="#000" stroke-width="0.250" style="font-family:'Liberation Sans'">2</text>
<text transform="translate(295.86,120.85) scale(1.0000,1)" font-size="10.145" font-weight="bold" stroke="#000" stroke-width="0.250" style="font-family:'Liberation Sans'">1</text>
<text transform="translate(296.34,191.25) scale(1.0000,1)" font-size="9.859" font-weight="bold" stroke="#000" stroke-width="0.250" style="font-family:'Liberation Sans'">0</text>
<text transform="translate(79.06,209.38) scale(1.0300,1)" font-size="11.972" font-weight="normal" stroke="#000" stroke-width="0.300" style="font-family:'Liberation Sans'">3</text>
<text transform="translate(107.24,209.62) scale(1.0300,1)" font-size="12.500" font-weight="normal" stroke="#000" stroke-width="0.300" style="font-family:'Liberation Sans'">7</text>
<text transform="translate(136.64,209.50) scale(1.0300,1)" font-size="12.319" font-weight="normal" stroke="#000" stroke-width="0.300" style="font-family:'Liberation Sans'">14</text>
<text transform="translate(165.39,209.38) scale(1.0300,1)" font-size="11.972" font-weight="normal" stroke="#000" stroke-width="0.300" style="font-family:'Liberation Sans'">28</text>
<text transform="translate(194.80,209.50) scale(1.0300,1)" font-size="12.143" font-weight="normal" stroke="#000" stroke-width="0.300" style="font-family:'Liberation Sans'">42</text>
<text transform="translate(224.24,209.38) scale(1.0300,1)" font-size="11.972" font-weight="normal" stroke="#000" stroke-width="0.300" style="font-family:'Liberation Sans'">70</text>
<text transform="translate(334.06,209.18) scale(1.0300,1)" font-size="11.972" font-weight="normal" stroke="#000" stroke-width="0.300" style="font-family:'Liberation Sans'">3</text>
<text transform="translate(361.19,209.43) scale(1.0300,1)" font-size="12.500" font-weight="normal" stroke="#000" stroke-width="0.300" style="font-family:'Liberation Sans'">7</text>
<text transform="translate(389.04,209.30) scale(1.0300,1)" font-size="12.319" font-weight="normal" stroke="#000" stroke-width="0.300" style="font-family:'Liberation Sans'">14</text>
<text transform="translate(417.89,209.18) scale(1.0300,1)" font-size="11.972" font-weight="normal" stroke="#000" stroke-width="0.300" style="font-family:'Liberation Sans'">28</text>
<text transform="translate(446.50,209.30) scale(1.0300,1)" font-size="12.143" font-weight="normal" stroke="#000" stroke-width="0.300" style="font-family:'Liberation Sans'">42</text>
<text transform="translate(474.74,209.18) scale(1.0300,1)" font-size="11.972" font-weight="normal" stroke="#000" stroke-width="0.300" style="font-family:'Liberation Sans'">70</text>
<text transform="translate(89.75,227.07) scale(1.0805,1)" font-size="13.936" font-weight="bold" stroke="#000" stroke-width="0.250" style="font-family:'Liberation Sans'">Days after surgery</text>
<text transform="translate(345.87,227.83) scale(1.0407,1)" font-size="14.149" font-weight="bold" stroke="#000" stroke-width="0.250" style="font-family:'Liberation Sans'">Days after surgery</text>
<text transform="translate(25.12,150.21) rotate(-90) scale(0.9844,1)" font-size="17.571" font-weight="bold" stroke="#000" stroke-width="0.250" style="font-family:'Liberation Sans'">Percent</text>
<text transform="translate(222.49,156.07) scale(1.1346,1)" font-size="13.378" font-weight="bold" stroke="#000" stroke-width="0.250" style="font-family:'Liberation Sans'">sham</text>
<text transform="translate(222.80,172.66) scale(1.0369,1)" font-size="14.366" font-weight="bold" stroke="#000" stroke-width="0.250" style="font-family:'Liberation Sans'">CLP</text>
<text transform="translate(0.18,274.00) scale(0.9808,1)" font-size="25.072" font-weight="bold" stroke="#000" stroke-width="0.250" style="font-family:'Liberation Sans'">B</text>
<text transform="translate(75.65,448.12) scale(1.0000,1)" font-size="8.169" font-weight="normal" stroke="#000" stroke-width="0.300" style="font-family:'Liberation Sans'">10</text>
<text transform="translate(84.58,445.30)" font-size="5.600" font-weight="normal" stroke="#000" stroke-width="0.25" style="font-family:'Liberation Sans'">0</text>
<text transform="translate(116.47,448.12) scale(1.0000,1)" font-size="8.169" font-weight="normal" stroke="#000" stroke-width="0.300" style="font-family:'Liberation Sans'">10</text>
<text transform="translate(125.18,445.30)" font-size="5.600" font-weight="normal" stroke="#000" stroke-width="0.25" style="font-family:'Liberation Sans'">1</text>
<text transform="translate(157.30,448.12) scale(1.0000,1)" font-size="8.169" font-weight="normal" stroke="#000" stroke-width="0.300" style="font-family:'Liberation Sans'">10</text>
<text transform="translate(166.17,445.30)" font-size="5.600" font-weight="normal" stroke="#000" stroke-width="0.25" style="font-family:'Liberation Sans'">2</text>
<text transform="translate(198.12,448.12) scale(1.0000,1)" font-size="8.169" font-weight="normal" stroke="#000" stroke-width="0.300" style="font-family:'Liberation Sans'">10</text>
<text transform="translate(207.05,445.30)" font-size="5.600" font-weight="normal" stroke="#000" stroke-width="0.25" style="font-family:'Liberation Sans'">3</text>
<text transform="translate(238.95,448.12) scale(1.0000,1)" font-size="8.169" font-weight="normal" stroke="#000" stroke-width="0.300" style="font-family:'Liberation Sans'">10</text>
<text transform="translate(247.99,445.30)" font-size="5.600" font-weight="normal" stroke="#000" stroke-width="0.25" style="font-family:'Liberation Sans'">4</text>
<text transform="translate(312.95,449.22) scale(1.0000,1)" font-size="8.169" font-weight="normal" stroke="#000" stroke-width="0.300" style="font-family:'Liberation Sans'">10</text>
<text transform="translate(321.88,446.40)" font-size="5.600" font-weight="normal" stroke="#000" stroke-width="0.25" style="font-family:'Liberation Sans'">0</text>
<text transform="translate(354.40,449.22) scale(1.0000,1)" font-size="8.169" font-weight="normal" stroke="#000" stroke-width="0.300" style="font-family:'Liberation Sans'">10</text>
<text transform="translate(363.10,446.40)" font-size="5.600" font-weight="normal" stroke="#000" stroke-width="0.25" style="font-family:'Liberation Sans'">1</text>
<text transform="translate(395.85,449.22) scale(1.0000,1)" font-size="8.169" font-weight="normal" stroke="#000" stroke-width="0.300" style="font-family:'Liberation Sans'">10</text>
<text transform="translate(404.72,446.40)" font-size="5.600" font-weight="normal" stroke="#000" stroke-width="0.25" style="font-family:'Liberation Sans'">2</text>
<text transform="translate(437.30,449.22) scale(1.0000,1)" font-size="8.169" font-weight="normal" stroke="#000" stroke-width="0.300" style="font-family:'Liberation Sans'">10</text>
<text transform="translate(446.23,446.40)" font-size="5.600" font-weight="normal" stroke="#000" stroke-width="0.25" style="font-family:'Liberation Sans'">3</text>
<text transform="translate(478.75,449.22) scale(1.0000,1)" font-size="8.169" font-weight="normal" stroke="#000" stroke-width="0.300" style="font-family:'Liberation Sans'">10</text>
<text transform="translate(487.79,446.40)" font-size="5.600" font-weight="normal" stroke="#000" stroke-width="0.25" style="font-family:'Liberation Sans'">4</text>
<text transform="translate(74.15,651.72) scale(1.0000,1)" font-size="8.169" font-weight="normal" stroke="#000" stroke-width="0.300" style="font-family:'Liberation Sans'">10</text>
<text transform="translate(83.08,648.90)" font-size="5.600" font-weight="normal" stroke="#000" stroke-width="0.25" style="font-family:'Liberation Sans'">0</text>
<text transform="translate(115.30,651.72) scale(1.0000,1)" font-size="8.169" font-weight="normal" stroke="#000" stroke-width="0.300" style="font-family:'Liberation Sans'">10</text>
<text transform="translate(124.00,648.90)" font-size="5.600" font-weight="normal" stroke="#000" stroke-width="0.25" style="font-family:'Liberation Sans'">1</text>
<text transform="translate(156.45,651.72) scale(1.0000,1)" font-size="8.169" font-weight="normal" stroke="#000" stroke-width="0.300" style="font-family:'Liberation Sans'">10</text>
<text transform="translate(165.32,648.90)" font-size="5.600" font-weight="normal" stroke="#000" stroke-width="0.25" style="font-family:'Liberation Sans'">2</text>
<text transform="translate(197.60,651.72) scale(1.0000,1)" font-size="8.169" font-weight="normal" stroke="#000" stroke-width="0.300" style="font-family:'Liberation Sans'">10</text>
<text transform="translate(206.53,648.90)" font-size="5.600" font-weight="normal" stroke="#000" stroke-width="0.25" style="font-family:'Liberation Sans'">3</text>
<text transform="translate(238.75,651.72) scale(1.0000,1)" font-size="8.169" font-weight="normal" stroke="#000" stroke-width="0.300" style="font-family:'Liberation Sans'">10</text>
<text transform="translate(247.79,648.90)" font-size="5.600" font-weight="normal" stroke="#000" stroke-width="0.25" style="font-family:'Liberation Sans'">4</text>
<text transform="translate(312.15,653.92) scale(1.0000,1)" font-size="8.169" font-weight="normal" stroke="#000" stroke-width="0.300" style="font-family:'Liberation Sans'">10</text>
<text transform="translate(321.08,651.10)" font-size="5.600" font-weight="normal" stroke="#000" stroke-width="0.25" style="font-family:'Liberation Sans'">0</text>
<text transform="translate(353.45,653.92) scale(1.0000,1)" font-size="8.169" font-weight="normal" stroke="#000" stroke-width="0.300" style="font-family:'Liberation Sans'">10</text>
<text transform="translate(362.15,651.10)" font-size="5.600" font-weight="normal" stroke="#000" stroke-width="0.25" style="font-family:'Liberation Sans'">1</text>
<text transform="translate(394.75,653.92) scale(1.0000,1)" font-size="8.169" font-weight="normal" stroke="#000" stroke-width="0.300" style="font-family:'Liberation Sans'">10</text>
<text transform="translate(403.62,651.10)" font-size="5.600" font-weight="normal" stroke="#000" stroke-width="0.25" style="font-family:'Liberation Sans'">2</text>
<text transform="translate(436.05,653.92) scale(1.0000,1)" font-size="8.169" font-weight="normal" stroke="#000" stroke-width="0.300" style="font-family:'Liberation Sans'">10</text>
<text transform="translate(444.98,651.10)" font-size="5.600" font-weight="normal" stroke="#000" stroke-width="0.25" style="font-family:'Liberation Sans'">3</text>
<text transform="translate(477.35,653.92) scale(1.0000,1)" font-size="8.169" font-weight="normal" stroke="#000" stroke-width="0.300" style="font-family:'Liberation Sans'">10</text>
<text transform="translate(486.39,651.10)" font-size="5.600" font-weight="normal" stroke="#000" stroke-width="0.25" style="font-family:'Liberation Sans'">4</text>
<text transform="translate(44.78,282.14) scale(1.0878,1)" font-size="15.634" font-weight="bold" stroke="#000" stroke-width="0.250" style="font-family:'Liberation Sans'">100</text>
<text transform="translate(56.09,358.44) scale(1.0633,1)" font-size="15.915" font-weight="bold" stroke="#000" stroke-width="0.250" style="font-family:'Liberation Sans'">50</text>
<text transform="translate(63.88,440.84) scale(1.1000,1)" font-size="16.338" font-weight="bold" stroke="#000" stroke-width="0.250" style="font-family:'Liberation Sans'">0</text>
<text transform="translate(281.89,284.64) scale(1.0700,1)" font-size="15.775" font-weight="bold" stroke="#000" stroke-width="0.250" style="font-family:'Liberation Sans'">100</text>
<text transform="translate(293.07,361.33) scale(1.0499,1)" font-size="16.761" font-weight="bold" stroke="#000" stroke-width="0.250" style="font-family:'Liberation Sans'">50</text>
<text transform="translate(301.19,443.84) scale(1.1000,1)" font-size="16.197" font-weight="bold" stroke="#000" stroke-width="0.250" style="font-family:'Liberation Sans'">0</text>
<text transform="translate(42.96,486.33) scale(1.0166,1)" font-size="17.042" font-weight="bold" stroke="#000" stroke-width="0.250" style="font-family:'Liberation Sans'">100</text>
<text transform="translate(54.39,561.84) scale(1.0728,1)" font-size="15.775" font-weight="bold" stroke="#000" stroke-width="0.250" style="font-family:'Liberation Sans'">50</text>
<text transform="translate(61.81,644.64) scale(1.1000,1)" font-size="15.775" font-weight="bold" stroke="#000" stroke-width="0.250" style="font-family:'Liberation Sans'">0</text>
<text transform="translate(279.94,487.54) scale(1.0893,1)" font-size="16.197" font-weight="bold" stroke="#000" stroke-width="0.250" style="font-family:'Liberation Sans'">100</text>
<text transform="translate(292.10,563.34) scale(1.0573,1)" font-size="15.915" font-weight="bold" stroke="#000" stroke-width="0.250" style="font-family:'Liberation Sans'">50</text>
<text transform="translate(300.09,646.14) scale(1.1000,1)" font-size="16.197" font-weight="bold" stroke="#000" stroke-width="0.250" style="font-family:'Liberation Sans'">0</text>
<text transform="translate(40.14,395.92) rotate(-90) scale(1.0563,1)" font-size="16.351" font-weight="bold" stroke="#000" stroke-width="0.250" style="font-family:'Liberation Sans'">% of Max</text>
<text transform="translate(40.14,591.42) rotate(-90) scale(1.0563,1)" font-size="16.351" font-weight="bold" stroke="#000" stroke-width="0.250" style="font-family:'Liberation Sans'">% of Max</text>
<text transform="translate(133.23,463.43) scale(0.9906,1)" font-size="16.901" font-weight="bold" stroke="#000" stroke-width="0.250" style="font-family:'Liberation Sans'">MHC</text>
<text transform="translate(172.49,463.00) scale(0.9577,1)" font-size="17.692" font-weight="bold" stroke="#000" stroke-width="0.250" style="font-family:'Liberation Serif'">II</text>
<text transform="translate(379.81,464.13) scale(1.0204,1)" font-size="16.901" font-weight="bold" stroke="#000" stroke-width="0.250" style="font-family:'Liberation Sans'">CD40</text>
<text transform="translate(134.71,669.03) scale(1.0133,1)" font-size="16.901" font-weight="bold" stroke="#000" stroke-width="0.250" style="font-family:'Liberation Sans'">CD80</text>
<text transform="translate(377.82,669.84) scale(1.0813,1)" font-size="15.775" font-weight="bold" stroke="#000" stroke-width="0.250" style="font-family:'Liberation Sans'">CD86</text>
</svg>
</body></html>
